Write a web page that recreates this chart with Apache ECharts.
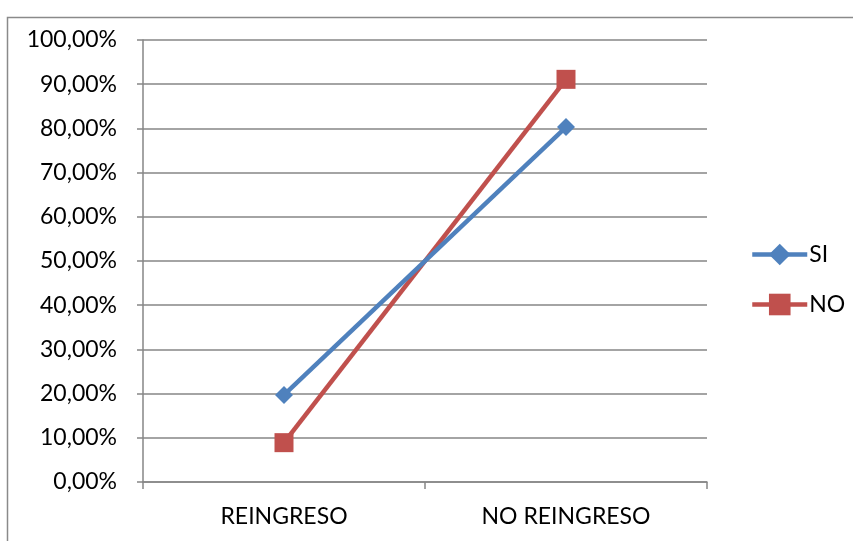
<!DOCTYPE html>
<html>
<head>
<meta charset="utf-8">
<script src="https://cdn.jsdelivr.net/npm/echarts@6/dist/echarts.min.js"></script>
<style>
  html, body { margin: 0; padding: 0; background: #ffffff; }
  #chart { width: 853px; height: 541px; }
</style>
</head>
<body>
<div id="chart"></div>
<script>
// Categories on the horizontal axis
const categories = ['REINGRESO', 'NO REINGRESO'];
// Percentages per series
const siValues = [19.7, 80.3];
const noValues = [8.9, 91.1];
// Series names
const seriesNames = ['SI', 'NO'];

const FONT = 'Lato, "Open Sans", sans-serif';
const GRAY = '#868686';

const chart = echarts.init(document.getElementById('chart'), null, { renderer: 'canvas' });

function pct(v) {
  return v.toFixed(2).replace('.', ',') + '%';
}

chart.setOption({
  animation: false,
  backgroundColor: '#ffffff',
  graphic: [{
    type: 'rect',
    shape: { x: 7.5, y: 17.5, width: 900, height: 600 },
    style: { fill: 'none', stroke: '#8a8a8a', lineWidth: 1.5 },
    silent: true
  }],
  grid: { left: 143, top: 40, width: 564, height: 442 },
  legend: {
    orient: 'vertical',
    left: 745,
    top: 238,
    itemWidth: 55,
    itemHeight: 27,
    itemGap: 27,
    lineStyle: { width: 4.5 },
    textStyle: { fontFamily: FONT, fontSize: 23, color: '#000', padding: [0, 0, 0, -3] },
    data: seriesNames
  },
  xAxis: {
    type: 'category',
    data: categories,
    boundaryGap: true,
    axisLine: { lineStyle: { color: GRAY, width: 1.5 } },
    axisTick: { show: true, length: 7, interval: 0, lineStyle: { color: GRAY, width: 1.5 } },
    axisLabel: { fontFamily: FONT, fontSize: 23, color: '#000', margin: 23 }
  },
  yAxis: {
    type: 'value',
    min: 0,
    max: 100,
    interval: 10,
    axisLine: { show: true, lineStyle: { color: GRAY, width: 1.5 } },
    axisTick: { show: true, length: 6, lineStyle: { color: GRAY, width: 1.5 } },
    splitLine: { lineStyle: { color: GRAY, width: 1.5 } },
    axisLabel: {
      fontFamily: FONT, fontSize: 23, color: '#000', margin: 26,
      formatter: v => pct(v)
    }
  },
  series: [
    {
      name: seriesNames[0],
      type: 'line',
      data: siValues,
      symbol: 'diamond',
      symbolSize: 18,
      itemStyle: { color: '#4F81BD' },
      lineStyle: { color: '#4F81BD', width: 4.5 },
      z: 3
    },
    {
      name: seriesNames[1],
      type: 'line',
      data: noValues,
      symbol: 'rect',
      symbolSize: 19,
      itemStyle: { color: '#C0504D' },
      lineStyle: { color: '#C0504D', width: 4.5 },
      z: 2
    }
  ]
});
</script>
</body>
</html>
